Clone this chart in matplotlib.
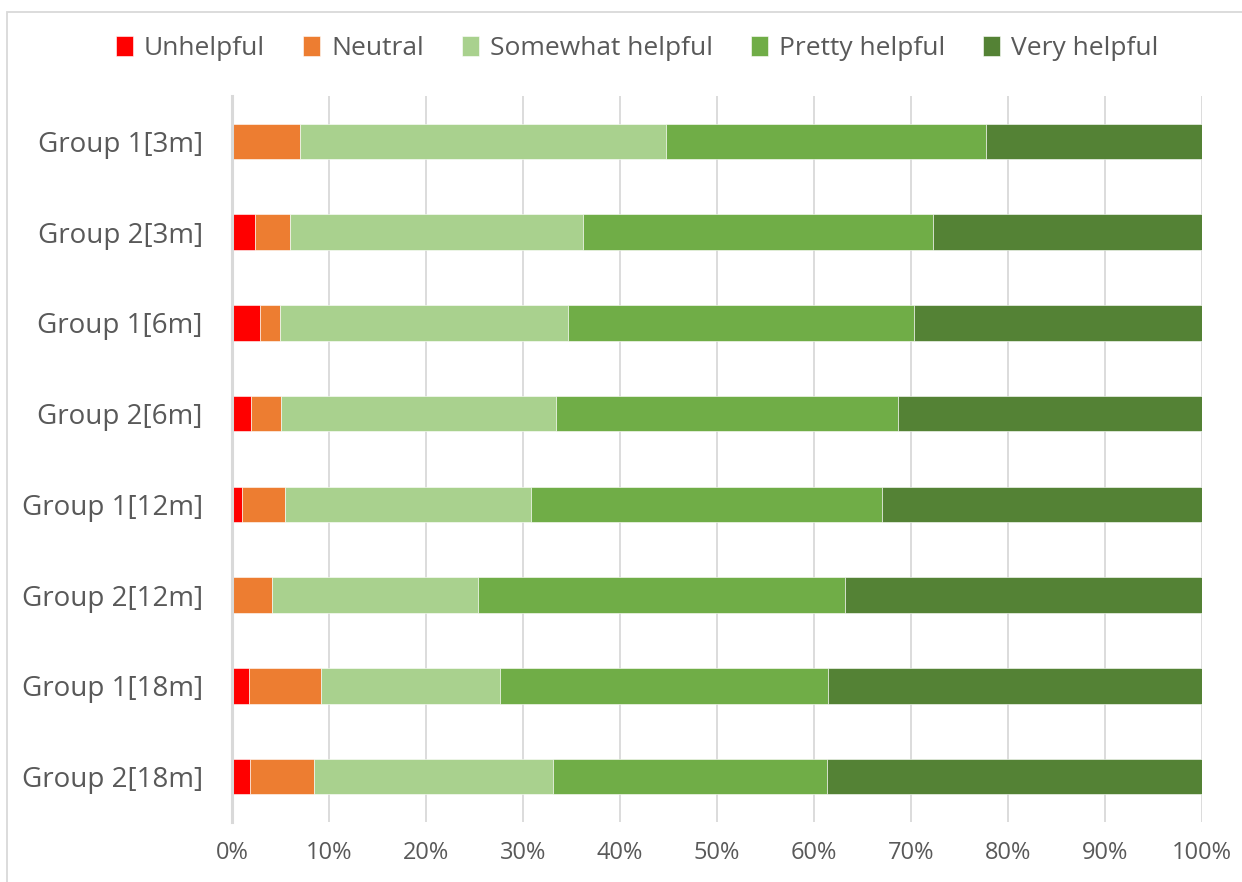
import matplotlib
matplotlib.use("Agg")
import matplotlib.pyplot as plt
from matplotlib.patches import Rectangle
from matplotlib.ticker import PercentFormatter

# survey answers per group / follow-up, in percent of respondents
groups = ["Group 1[3m]", "Group 2[3m]", "Group 1[6m]", "Group 2[6m]",
          "Group 1[12m]", "Group 2[12m]", "Group 1[18m]", "Group 2[18m]"]
categories = ["Unhelpful", "Neutral", "Somewhat helpful", "Pretty helpful", "Very helpful"]

unhelpful = [0.0, 2.4, 2.9, 2.0, 1.0, 0.0, 1.8, 1.9]
neutral = [7.0, 3.6, 2.0, 3.1, 4.5, 4.1, 7.4, 6.6]
somewhat = [37.7, 30.2, 29.7, 28.3, 25.3, 21.3, 18.4, 24.6]
pretty = [33.0, 36.1, 35.7, 35.3, 36.2, 37.8, 33.8, 28.2]
very = [22.3, 27.7, 29.7, 31.3, 33.0, 36.8, 38.6, 38.7]

colors = ["#FF0000", "#ED7D31", "#A9D18E", "#70AD47", "#548235"]
text_col = "#595959"
grid_col = "#D9D9D9"

plt.rcParams["font.family"] = ["Open Sans", "DejaVu Sans"]

fig = plt.figure(figsize=(12.42, 8.82), dpi=100)
ax = fig.add_axes([232 / 1242, 1 - 822 / 882, 970 / 1242, 726 / 882])

series = [unhelpful, neutral, somewhat, pretty, very]
ypos = list(range(len(groups)))
left = [0.0] * len(groups)
for name, vals, c in zip(categories, series, colors):
    ax.barh(ypos, vals, left=left, height=0.39, color=c, label=name,
            edgecolor="white", linewidth=0.4, zorder=3)
    left = [l + v for l, v in zip(left, vals)]

ax.set_xlim(0, 100)
ax.set_ylim(len(groups) - 0.5, -0.5)
ax.set_xticks(range(0, 101, 10))
ax.xaxis.set_major_formatter(PercentFormatter(decimals=0))
ax.set_yticks(ypos)
ax.set_yticklabels(groups)
ax.tick_params(axis="both", length=0, colors=text_col)
ax.tick_params(axis="y", pad=21, labelsize=20)
ax.tick_params(axis="x", pad=14, labelsize=17)
ax.xaxis.grid(True, color=grid_col, linewidth=1.3, zorder=0)
for s in ["top", "right", "bottom"]:
    ax.spines[s].set_visible(False)
ax.spines["left"].set_color(grid_col)
ax.spines["left"].set_linewidth(2.2)
ax.spines["left"].set_zorder(4)

fig.legend(loc="center", bbox_to_anchor=(0.513, 0.945), ncol=5, frameon=False,
           fontsize=19, labelcolor=text_col, handlelength=0.65, handleheight=0.8,
           handletextpad=0.4, columnspacing=1.45)

# chart area outline
fig.patches.append(Rectangle((7 / 1242, -0.02), 1.02, 0.02 + 1 - 12 / 882,
                             transform=fig.transFigure, fill=False,
                             edgecolor=grid_col, linewidth=1.3))

fig.savefig("out.png", dpi=100)
